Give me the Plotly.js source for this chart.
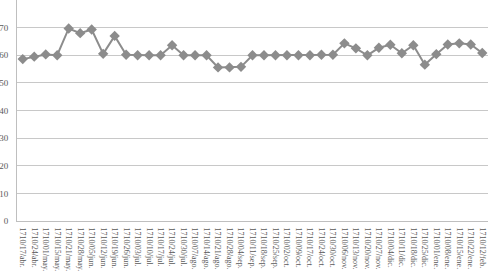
<!DOCTYPE html>
<html>
<head>
<meta charset="utf-8">
<script src="https://cdn.plot.ly/plotly-3.0.1.min.js"></script>
<style>html,body{margin:0;padding:0;background:#fff;}#chart{width:488px;height:271px;}</style>
</head>
<body>
<div id="chart"></div>
<script>
var categories = ["1710/17/abr.","1710/24/abr.","1710/01/may.","1710/15/may.","1710/21/may.","1710/28/may.","1710/05/jun.","1710/12/jun.","1710/19/jun.","1710/26/jun.","1710/03/jul.","1710/10/jul.","1710/17/jul.","1710/24/jul.","1710/30/jul.","1710/07/ago.","1710/14/ago.","1710/21/ago.","1710/28/ago.","1710/04/sep.","1710/11/sep.","1710/18/sep.","1710/25/sep.","1710/02/oct.","1710/09/oct.","1710/17/oct.","1710/24/oct.","1710/30/oct.","1710/06/nov.","1710/13/nov.","1710/20/nov.","1710/27/nov.","1710/04/dic.","1710/11/dic.","1710/18/dic.","1710/25/dic.","1710/01/ene.","1710/08/ene.","1710/15/ene.","1710/22/ene.","1710/12/feb."];
var values = [58.6,59.5,60.3,60,69.7,68,69.3,60.5,67,60.2,60,60,60,63.6,60,60,60,55.6,55.6,55.8,60,60,60,60,60,60,60.2,60.2,64.3,62.5,60,62.7,63.8,60.7,63.6,56.6,60.4,63.9,64.3,63.9,60.8];
var yTicks = [0,10,20,30,40,50,60,70];

var trace = {
  x: categories,
  y: values,
  type: "scatter",
  mode: "lines+markers",
  line: {color: "#8c8c8c", width: 2},
  marker: {symbol: "diamond", size: 8, color: "#8c8c8c"},
  hoverinfo: "none",
  cliponaxis: false
};

var layout = {
  width: 488,
  height: 271,
  margin: {l: 17, r: 0, t: 0, b: 50, pad: 0, autoexpand: false},
  paper_bgcolor: "#ffffff",
  plot_bgcolor: "#ffffff",
  showlegend: false,
  font: {family: "Liberation Serif, serif", color: "#595959"},
  xaxis: {
    type: "category",
    range: [-0.5, categories.length - 0.5],
    tickangle: 90,
    tickfont: {size: 8, family: "Liberation Serif, serif", color: "#595959"},
    showgrid: false,
    showline: true,
    linecolor: "#bfbfbf",
    linewidth: 1,
    ticks: "",
    zeroline: false,
    ticklabelstandoff: 4,
    automargin: false
  },
  yaxis: {
    range: [0, 80],
    tickvals: yTicks,
    ticktext: yTicks.map(String),
    tickfont: {size: 9, family: "Liberation Serif, serif", color: "#595959"},
    showgrid: true,
    gridcolor: "#c8c8c8",
    gridwidth: 1,
    showline: true,
    linecolor: "#bfbfbf",
    linewidth: 1,
    ticks: "",
    zeroline: false,
    ticklabelstandoff: 6,
    automargin: false
  }
};

Plotly.newPlot("chart", [trace], layout, {displayModeBar: false, staticPlot: true});
</script>
</body>
</html>
